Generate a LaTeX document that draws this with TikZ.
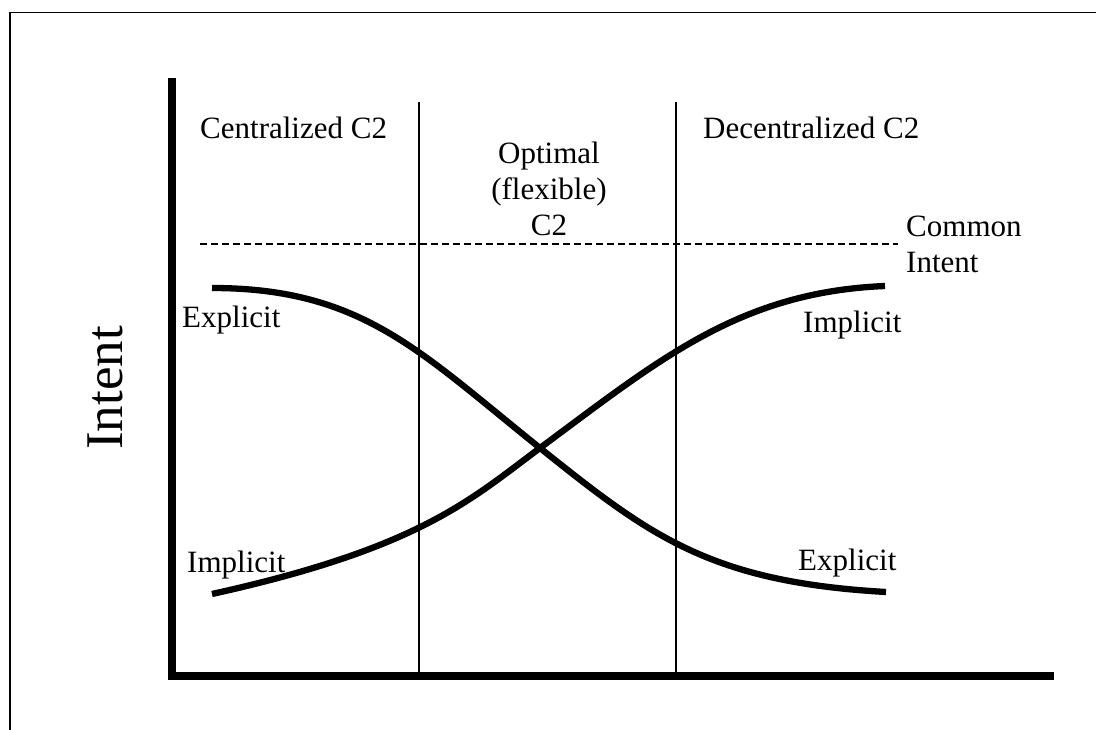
\documentclass[tikz,border=0pt]{standalone}
\usepackage{fontspec}
\setmainfont{Liberation Serif}
\tikzset{
  lbl/.style={font=\fontsize{31}{36}\selectfont, inner sep=0pt},
  curve/.style={line width=6.3pt},
  divider/.style={line width=1.8pt},
}
\begin{document}
\begin{tikzpicture}[x=1pt,y=-1pt]
    \useasboundingbox (0,0) rectangle (1096,730);
    \clip (0,0) rectangle (1096,730);
    \draw[line width=1.3pt] (10,12.5) rectangle (1120,750);
    \coordinate (T) at (172,78); \coordinate (O) at (172,676); \coordinate (R) at (1054,676);
    \draw[line width=8pt] (T)--(O)--(R);
    \coordinate (L1) at (419,102); \coordinate (L2) at (676,102);
    \draw[divider] (L1)--(419,672); \draw[divider] (L2)--(676,672);
    \coordinate (D1) at (200,244); \coordinate (D2) at (898,244);
    \draw[divider,dash pattern=on 7pt off 4pt] (D1)--(D2);
    % the two curves, crossing at X
    \coordinate (X) at (540,448);
    \coordinate (E1) at (212,288); \coordinate (E2) at (886,592);
    \coordinate (I1) at (212,594); \coordinate (I2) at (885,286);
    \draw[curve] (E1) .. controls (362,288) and (420,352) .. (X) .. controls (650,536) and (710,582) .. (E2);
    \draw[curve] (I1) .. controls (420,548) and (470,500) .. (X) .. controls (660,359) and (740,292) .. (I2);
    \node[lbl,anchor=base west] (cen) at (200,139) {Centralized C2};
    \node[lbl,anchor=base west] (dec) at (703,139) {Decentralized C2};
    \node[lbl,anchor=base,align=center] (opt) at (549,236) {Optimal\\(flexible)\\C2};
    \node[lbl,anchor=base west,align=left] (com) at (906,273) {Common\\Intent};
    \node[lbl,anchor=base west] (ex1) at (182,327) {Explicit};
    \node[lbl,anchor=base west] (im1) at (803,333) {Implicit};
    \node[lbl,anchor=base west] (im2) at (187,572) {Implicit};
    \node[lbl,anchor=base west] (ex2) at (798,570) {Explicit};
    \node[inner sep=0pt,font=\fontsize{53}{60}\selectfont,rotate=90,anchor=base] (ax) at (122,388) {Intent};
\end{tikzpicture}
\end{document}
